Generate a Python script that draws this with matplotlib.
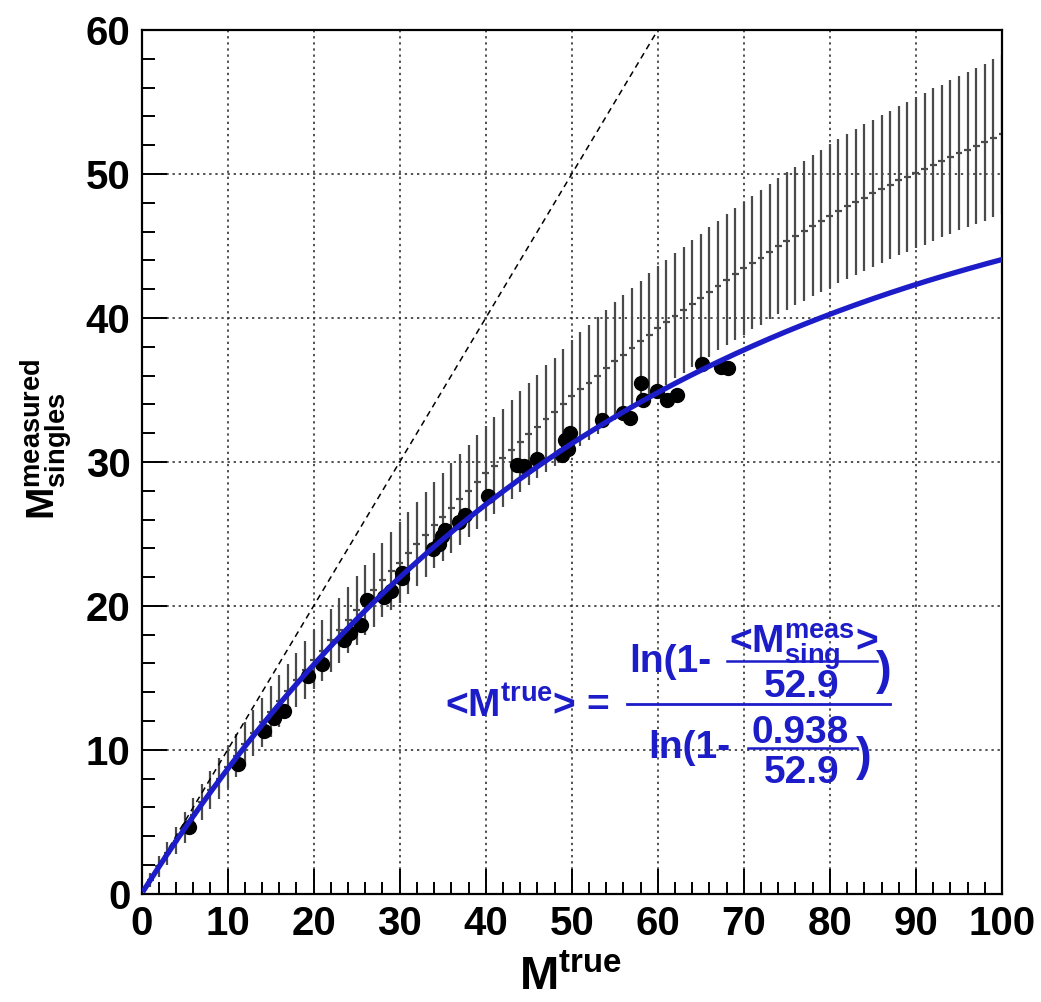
import numpy as np
import matplotlib
matplotlib.use('Agg')
from matplotlib import pyplot as plt
from matplotlib.ticker import MultipleLocator

plt.rcParams['font.family'] = ['Liberation Sans', 'DejaVu Sans']
plt.rcParams['font.weight'] = 'bold'
plt.rcParams['mathtext.fontset'] = 'custom'
plt.rcParams['mathtext.rm'] = 'Liberation Sans:bold'
plt.rcParams['mathtext.it'] = 'Liberation Sans:bold'
plt.rcParams['mathtext.bf'] = 'Liberation Sans:bold'

# fit parameters shown in the formula
n_sat = 52.9
m_one = 0.938

# model band: one bar per unit of M_true
band_x = list(range(1, 101))
band_c = [0.95, 1.9, 2.8, 3.7, 4.6, 5.5, 6.35, 7.2, 8.0, 8.8,
          9.6, 10.4, 11.15, 11.9, 12.65, 13.4, 14.1, 14.85, 15.55, 16.25,
          16.9, 17.6, 18.3, 19.0, 19.7, 20.4, 21.1, 21.8, 22.4, 23.0,
          23.65, 24.3, 24.95, 25.6, 26.2, 26.8, 27.4, 28.0, 28.6, 29.2,
          29.75, 30.3, 30.85, 31.4, 31.95, 32.45, 33.0, 33.5, 34.05, 34.6,
          35.05, 35.5, 36.0, 36.5, 37.0, 37.45, 37.9, 38.4, 38.85, 39.3,
          39.7, 40.15, 40.55, 41.0, 41.4, 41.8, 42.25, 42.65, 43.05, 43.45,
          43.85, 44.2, 44.6, 45.0, 45.35, 45.7, 46.05, 46.4, 46.75, 47.1,
          47.4, 47.75, 48.05, 48.35, 48.65, 48.95, 49.25, 49.55, 49.8, 50.1,
          50.35, 50.65, 50.9, 51.2, 51.45, 51.7, 51.95, 52.2, 52.5, 52.75]
band_e = [0.5, 0.7, 0.8, 0.95, 1.05, 1.15, 1.25, 1.3, 1.4, 1.45,
          1.5, 1.55, 1.6, 1.7, 1.75, 1.8, 1.85, 1.9, 2.0, 2.05,
          2.1, 2.2, 2.25, 2.3, 2.4, 2.45, 2.55, 2.6, 2.7, 2.8,
          2.85, 2.9, 2.95, 3.0, 3.05, 3.1, 3.15, 3.2, 3.25, 3.3,
          3.35, 3.4, 3.45, 3.5, 3.55, 3.6, 3.7, 3.75, 3.8, 3.9,
          3.95, 4.0, 4.05, 4.05, 4.1, 4.15, 4.15, 4.2, 4.25, 4.3,
          4.35, 4.35, 4.4, 4.4, 4.45, 4.5, 4.5, 4.55, 4.6, 4.6,
          4.65, 4.7, 4.7, 4.75, 4.8, 4.8, 4.85, 4.9, 4.95, 5.0,
          5.0, 5.05, 5.05, 5.1, 5.1, 5.15, 5.15, 5.2, 5.2, 5.25,
          5.25, 5.3, 5.3, 5.35, 5.35, 5.4, 5.4, 5.45, 5.5, 5.5]

# measured points
pts_x = [5.5, 11.2, 14.2, 15.4, 16.6, 19.4, 21.0, 23.5, 24.2, 25.5,
         26.2, 28.2, 29.0, 30.3, 30.3, 33.9, 34.6, 34.9, 35.3, 36.9,
         37.6, 40.3, 43.6, 44.4, 46.0, 48.9, 49.2, 49.6, 49.8, 53.5,
         56.0, 56.8, 58.1, 58.3, 59.9, 61.1, 62.2, 65.1, 67.4, 68.2]
pts_y = [4.65, 9.0, 11.3, 12.2, 12.7, 15.15, 15.95, 17.65, 18.1, 18.7,
         20.4, 20.6, 21.05, 21.95, 22.3, 23.95, 24.3, 24.85, 25.25, 25.85,
         26.3, 27.6, 29.8, 29.7, 30.2, 30.5, 31.5, 30.9, 32.0, 32.9,
         33.4, 33.05, 35.5, 34.3, 34.95, 34.3, 34.65, 36.8, 36.6, 36.5]

blue = '#1c1cc8'

fig = plt.figure(figsize=(10.41, 10.02), dpi=100)
ax = fig.add_axes([0.136, 0.108, 0.8265, 0.862])

ax.grid(True, which='major', color='#222222', linestyle=(0, (1.5, 2.5)), linewidth=1.1)
ax.set_axisbelow(True)

ax.errorbar(band_x, band_c, yerr=band_e, xerr=0.4, fmt='none',
            ecolor='#4a4a4a', elinewidth=1.6, capsize=0, zorder=2)

ax.plot([0, 60], [0, 60], color='black', linestyle=(0, (4, 3)), linewidth=1.1, zorder=3)

ax.plot(pts_x, pts_y, 'o', color='black', markersize=10, zorder=4)

fx = np.linspace(0.3, 100, 300)
fy = n_sat * (1 - (1 - m_one / n_sat) ** fx)
ax.plot(fx, fy, color=blue, linewidth=3.8, zorder=5)

ax.set_xlim(0, 100)
ax.set_ylim(0, 60)
ax.xaxis.set_major_locator(MultipleLocator(10))
ax.xaxis.set_minor_locator(MultipleLocator(2))
ax.yaxis.set_major_locator(MultipleLocator(10))
ax.yaxis.set_minor_locator(MultipleLocator(2))
ax.tick_params(which='both', direction='in', top=False, right=False, width=1.4)
ax.tick_params(which='major', length=18, labelsize=29, pad=8)
ax.tick_params(which='minor', length=9)
for lab in ax.get_xticklabels() + ax.get_yticklabels():
    lab.set_fontweight('bold')
for sp in ax.spines.values():
    sp.set_linewidth(1.6)

fig.text(0.548, 0.002, r'M$^{\rm true}$', fontsize=34, fontweight='bold',
         ha='center', va='bottom')
fig.text(0.045, 0.562, r'M$^{\rm measured}_{\rm singles}$', fontsize=28,
         fontweight='bold', rotation=90, ha='center', va='center')

# formula
fs = 28
tk = dict(color=blue, fontsize=fs, fontweight='bold')
ax.text(35.3, 12.3, r'<M$^{\rm true}$> =', ha='left', va='baseline', **tk)
ax.plot([56.4, 87.0], [13.2, 13.2], color=blue, linewidth=2.0, clip_on=False)
ax.text(56.7, 15.4, 'ln(1-', ha='left', va='baseline', **tk)
ax.plot([68.0, 85.5], [16.2, 16.2], color=blue, linewidth=1.8)
ax.text(68.3, 16.7, r'<M$^{\rm meas}_{\rm sing}$>', ha='left', va='baseline', **tk)
ax.text(76.7, 13.7, '52.9', ha='center', va='baseline', **tk)
ax.text(86.3, 15.4, ')', ha='center', va='center', color=blue, fontsize=34, fontweight='bold')
ax.text(58.9, 9.44, 'ln(1-', ha='left', va='baseline', **tk)
ax.plot([70.5, 83.2], [10.1, 10.1], color=blue, linewidth=1.8)
ax.text(76.5, 10.5, '0.938', ha='center', va='baseline', **tk)
ax.text(76.7, 7.7, '52.9', ha='center', va='baseline', **tk)
ax.text(84.0, 9.4, ')', ha='center', va='center', color=blue, fontsize=34, fontweight='bold')

fig.savefig('out.png', dpi=100)
